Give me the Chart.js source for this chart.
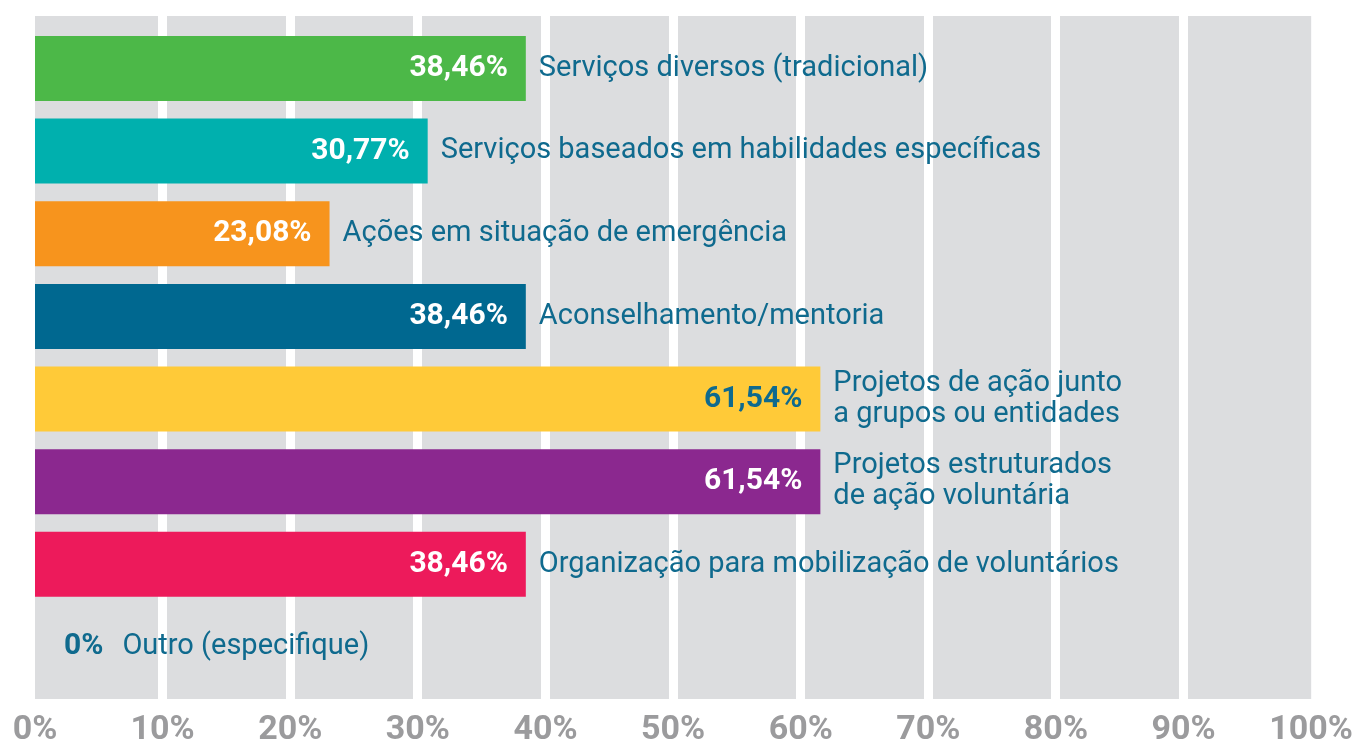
<!DOCTYPE html>
<html>
<head>
<meta charset="utf-8">
<script src="https://cdn.jsdelivr.net/npm/chart.js@4"></script>
<style>
  body { margin: 0; background: #fff; }
  #wrap { width: 1353px; height: 747px; }
</style>
</head>
<body>
<div id="wrap"><canvas id="chart"></canvas></div>
<script>
const categories = [
  "Serviços diversos (tradicional)",
  "Serviços baseados em habilidades específicas",
  "Ações em situação de emergência",
  "Aconselhamento/mentoria",
  ["Projetos de ação junto", "a grupos ou entidades"],
  ["Projetos estruturados", "de ação voluntária"],
  "Organização para mobilização de voluntários",
  "Outro (especifique)"
];
const values = [38.46, 30.77, 23.08, 38.46, 61.54, 61.54, 38.46, 0];
const barColors = ["#4cb848", "#00b0ae", "#f7941d", "#006890", "#ffca38", "#8b288f", "#ed1a5b", "#006890"];
const valueColors = ["#fff", "#fff", "#fff", "#fff", "#0f6a8e", "#fff", "#fff", "#0f6a8e"];
const xTicks = [0, 10, 20, 30, 40, 50, 60, 70, 80, 90, 100];

const FONT = "Roboto, 'Open Sans', sans-serif";
const TEXT_BLUE = "#0f6a8e";

function fmt(v) {
  return v === 0 ? "0%" : v.toFixed(2).replace(".", ",") + "%";
}

// edge lines (0 and 100) are not drawn, only the white gaps between bands
const isEdge = c => c.tick && (c.tick.value === 0 || c.tick.value === 100);

const bgPlugin = {
  id: "bg",
  beforeDraw(chart) {
    const { ctx, chartArea: a } = chart;
    ctx.save();
    ctx.fillStyle = "#dcdddf";
    ctx.fillRect(a.left, a.top, a.right - a.left, a.bottom - a.top);
    ctx.restore();
  }
};

const labelPlugin = {
  id: "barLabels",
  afterDatasetsDraw(chart) {
    const ctx = chart.ctx;
    const meta = chart.getDatasetMeta(0);
    ctx.save();
    ctx.textBaseline = "middle";
    meta.data.forEach((bar, i) => {
      const v = values[i];
      const txt = fmt(v);
      ctx.font = "bold 30px " + FONT;
      ctx.fillStyle = valueColors[i];
      let catX;
      if (v === 0) {
        ctx.textAlign = "left";
        ctx.fillText(txt, bar.x + 29, bar.y);
        catX = bar.x + 29 + ctx.measureText(txt).width + 19;
      } else {
        ctx.textAlign = "right";
        ctx.fillText(txt, bar.x - 18, bar.y);
        catX = bar.x + 13;
      }
      ctx.font = "29px " + FONT;
      ctx.fillStyle = TEXT_BLUE;
      ctx.textAlign = "left";
      const lines = Array.isArray(categories[i]) ? categories[i] : [categories[i]];
      const lh = 31;
      lines.forEach((ln, k) => {
        ctx.fillText(ln, catX, bar.y + (k - (lines.length - 1) / 2) * lh);
      });
    });
    ctx.restore();
  }
};

new Chart(document.getElementById("chart"), {
  type: "bar",
  data: {
    datasets: [{
      data: values.map((v, i) => ({ x: v, y: i })),
      backgroundColor: barColors,
      barThickness: 65,
      borderWidth: 0,
      inflateAmount: 0
    }]
  },
  options: {
    indexAxis: "y",
    responsive: true,
    maintainAspectRatio: false,
    animation: false,
    layout: { padding: { left: 35, right: 40, top: 16, bottom: 0 } },
    plugins: { legend: { display: false }, tooltip: { enabled: false } },
    scales: {
      x: {
        type: "linear",
        min: 0,
        max: 100,
        afterBuildTicks(scale) {
          scale.ticks = xTicks.map(v => ({ value: v }));
        },
        border: { display: false },
        grid: {
          z: -1,
          drawTicks: true,
          tickLength: 14,
          tickColor: "rgba(0,0,0,0)",
          lineWidth: c => isEdge(c) ? 0 : 9,
          color: c => isEdge(c) ? "rgba(0,0,0,0)" : "#ffffff"
        },
        ticks: {
          padding: 0,
          maxRotation: 0,
          autoSkip: false,
          color: "#9b9b9d",
          font: { family: FONT, size: 34, weight: "bold", lineHeight: 1 },
          callback: v => v + "%"
        }
      },
      y: {
        type: "linear",
        offset: false,
        min: -0.635,
        max: 7.63,
        reverse: true,
        display: false
      }
    }
  },
  plugins: [bgPlugin, labelPlugin]
});
</script>
</body>
</html>
